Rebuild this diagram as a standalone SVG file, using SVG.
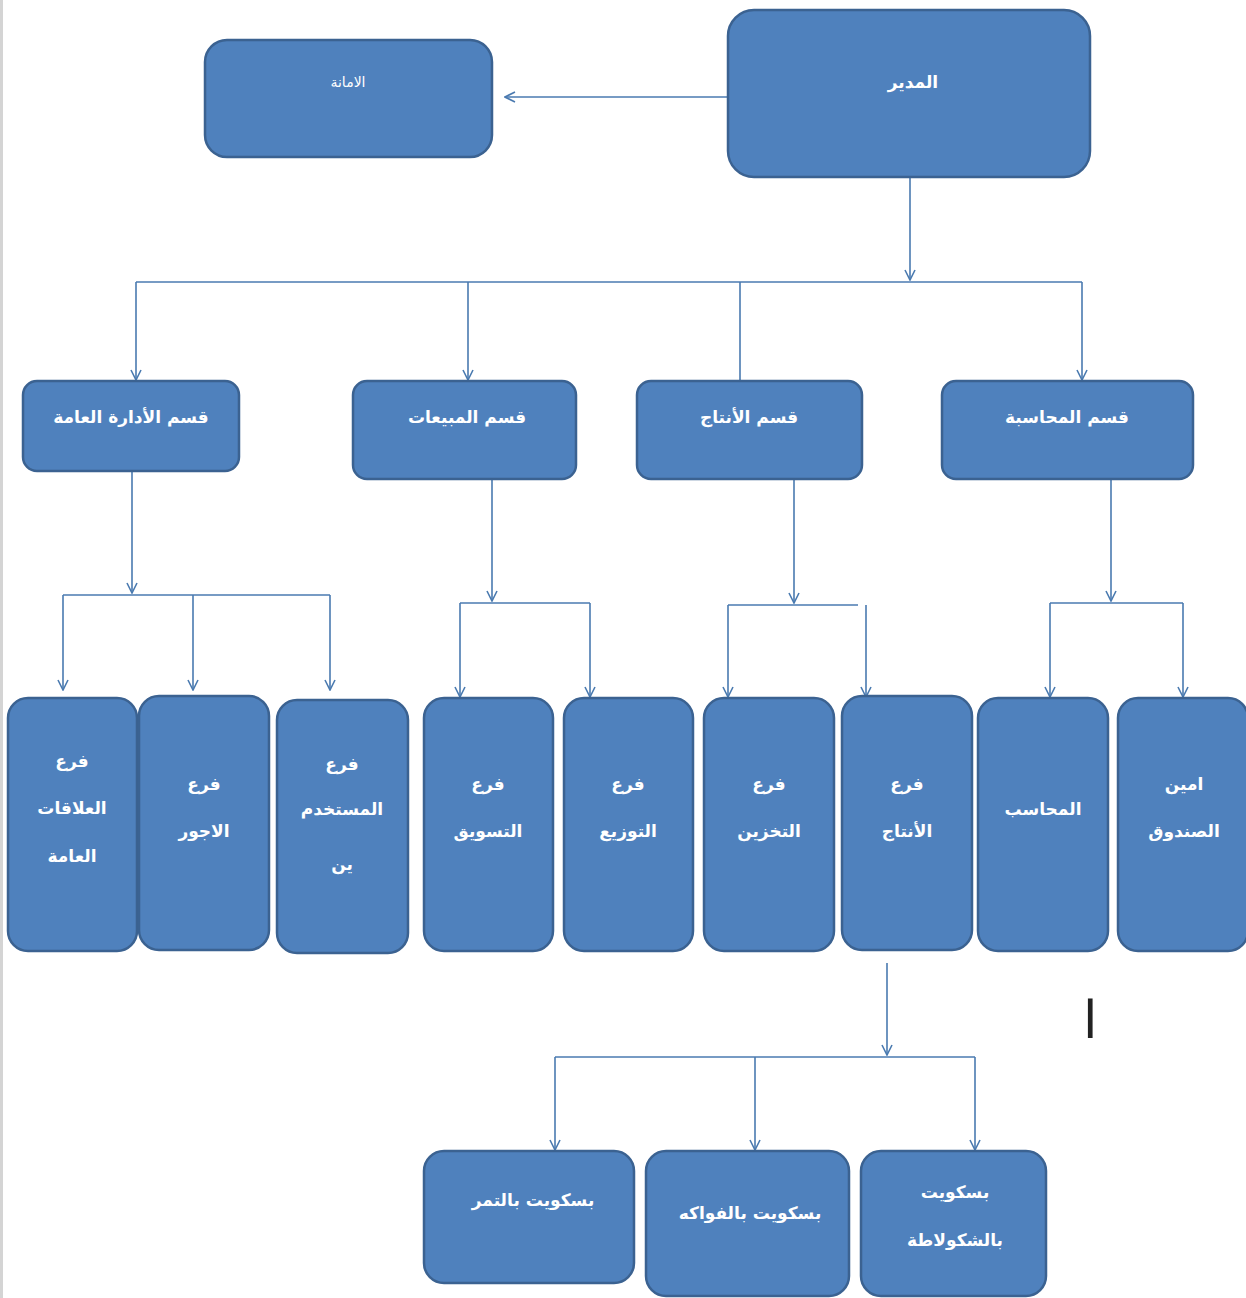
<svg xmlns="http://www.w3.org/2000/svg" width="1246" height="1298" viewBox="0 0 1246 1298">
<defs>
<style>
.box{fill:#4f81bd;stroke:#3b6291;stroke-width:2.5}
.t{fill:#ffffff;font-family:"DejaVu Sans",sans-serif;font-weight:bold;font-size:17px;text-anchor:middle}
.s{font-size:14px;font-weight:normal}
.c{fill:none;stroke:#4a7ab0;stroke-width:1.6}
.a{marker-end:url(#arr)}
</style>
<marker id="arr" viewBox="0 0 12 12" refX="11" refY="6" markerWidth="12" markerHeight="12" markerUnits="userSpaceOnUse" orient="auto">
<path d="M1,1 L11,6 L1,11" fill="none" stroke="#4a7ab0" stroke-width="1.6"/>
</marker>
</defs>
<rect x="0" y="0" width="1246" height="1298" fill="#ffffff"/>
<rect x="0" y="0" width="3" height="1298" fill="#d4d4d4"/>

<g id="connectors">
<line class="c a" x1="728" y1="97" x2="505" y2="97"/>
<line class="c a" x1="910" y1="177" x2="910" y2="280"/>
<line class="c" x1="136" y1="282" x2="1082" y2="282"/>
<line class="c a" x1="136" y1="282" x2="136" y2="380"/>
<line class="c a" x1="468" y1="282" x2="468" y2="380"/>
<line class="c" x1="740" y1="282" x2="740" y2="381"/>
<line class="c a" x1="1082" y1="282" x2="1082" y2="380"/>

<line class="c a" x1="132" y1="471" x2="132" y2="593"/>
<line class="c" x1="63" y1="595" x2="330" y2="595"/>
<line class="c a" x1="63" y1="595" x2="63" y2="690"/>
<line class="c a" x1="193" y1="595" x2="193" y2="690"/>
<line class="c a" x1="330" y1="595" x2="330" y2="690"/>

<line class="c a" x1="492" y1="479" x2="492" y2="601"/>
<line class="c" x1="460" y1="603" x2="590" y2="603"/>
<line class="c a" x1="460" y1="603" x2="460" y2="697"/>
<line class="c a" x1="590" y1="603" x2="590" y2="697"/>

<line class="c a" x1="794" y1="479" x2="794" y2="603"/>
<line class="c" x1="728" y1="605" x2="858" y2="605"/>
<line class="c a" x1="728" y1="605" x2="728" y2="697"/>
<line class="c a" x1="866" y1="605" x2="866" y2="697"/>

<line class="c a" x1="1111" y1="479" x2="1111" y2="601"/>
<line class="c" x1="1050" y1="603" x2="1183" y2="603"/>
<line class="c a" x1="1050" y1="603" x2="1050" y2="697"/>
<line class="c a" x1="1183" y1="603" x2="1183" y2="697"/>

<line class="c a" x1="887" y1="963" x2="887" y2="1055"/>
<line class="c" x1="555" y1="1057" x2="975" y2="1057"/>
<line class="c a" x1="555" y1="1057" x2="555" y2="1150"/>
<line class="c a" x1="755" y1="1057" x2="755" y2="1150"/>
<line class="c a" x1="975" y1="1057" x2="975" y2="1150"/>
</g>

<g id="n-director"><rect class="box" x="728" y="10" width="362" height="167" rx="26"/><text class="t" x="913" y="88" font-size="19">المدير</text></g>
<g id="n-secretariat"><rect class="box" x="205" y="40" width="287" height="117" rx="22"/><text class="t s" x="348" y="87">الامانة</text></g>

<g id="n-admin"><rect class="box" x="23" y="381" width="216" height="90" rx="14"/><text class="t" x="131" y="423">قسم الأدارة العامة</text></g>
<g id="n-sales"><rect class="box" x="353" y="381" width="223" height="98" rx="14"/><text class="t" x="467" y="423">قسم المبيعات</text></g>
<g id="n-production"><rect class="box" x="637" y="381" width="225" height="98" rx="14"/><text class="t" x="749" y="423">قسم الأنتاج</text></g>
<g id="n-accounting"><rect class="box" x="942" y="381" width="251" height="98" rx="14"/><text class="t" x="1067" y="423">قسم المحاسبة</text></g>

<g id="n-pr"><rect class="box" x="8" y="698" width="129" height="253" rx="20"/><text class="t" x="72" y="767">فرع</text><text class="t" x="72" y="814">العلاقات</text><text class="t" x="72" y="862">العامة</text></g>
<g id="n-wages"><rect class="box" x="139" y="696" width="130" height="254" rx="20"/><text class="t" x="204" y="790">فرع</text><text class="t" x="204" y="837">الاجور</text></g>
<g id="n-staff"><rect class="box" x="277" y="700" width="131" height="253" rx="20"/><text class="t" x="342" y="770">فرع</text><text class="t" x="342" y="815">المستخدم</text><text class="t" x="342" y="870">ين</text></g>
<g id="n-marketing"><rect class="box" x="424" y="698" width="129" height="253" rx="20"/><text class="t" x="488" y="790">فرع</text><text class="t" x="488" y="837">التسويق</text></g>
<g id="n-distribution"><rect class="box" x="564" y="698" width="129" height="253" rx="20"/><text class="t" x="628" y="790">فرع</text><text class="t" x="628" y="837">التوزيع</text></g>
<g id="n-storage"><rect class="box" x="704" y="698" width="130" height="253" rx="20"/><text class="t" x="769" y="790">فرع</text><text class="t" x="769" y="837">التخزين</text></g>
<g id="n-prodbranch"><rect class="box" x="842" y="696" width="130" height="254" rx="20"/><text class="t" x="907" y="790">فرع</text><text class="t" x="907" y="837">الأنتاج</text></g>
<g id="n-accountant"><rect class="box" x="978" y="698" width="130" height="253" rx="20"/><text class="t" x="1043" y="815">المحاسب</text></g>
<g id="n-cashier"><rect class="box" x="1118" y="698" width="130" height="253" rx="20"/><text class="t" x="1184" y="790">امين</text><text class="t" x="1184" y="837">الصندوق</text></g>

<g id="n-dates"><rect class="box" x="424" y="1151" width="210" height="132" rx="20"/><text class="t" x="533" y="1206">بسكويت بالتمر</text></g>
<g id="n-fruit"><rect class="box" x="646" y="1151" width="203" height="145" rx="20"/><text class="t" x="750" y="1219">بسكويت بالفواكه</text></g>
<g id="n-choc"><rect class="box" x="861" y="1151" width="185" height="145" rx="20"/><text class="t" x="955" y="1198">بسكويت</text><text class="t" x="955" y="1246">بالشكولاطة</text></g>

<text x="1090" y="1038" font-family="DejaVu Serif, serif" font-size="52" fill="#222" text-anchor="middle">ا</text>
</svg>
